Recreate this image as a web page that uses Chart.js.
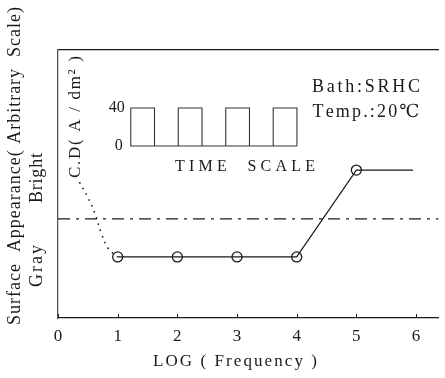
<!DOCTYPE html>
<html>
<head>
<meta charset="utf-8">
<script src="https://cdn.jsdelivr.net/npm/chart.js@4/dist/chart.umd.min.js"></script>
<style>
  html, body { margin: 0; padding: 0; background: #ffffff; }
  #wrap { width: 445px; height: 378px; }
</style>
</head>
<body>
<div id="wrap"><canvas id="c" width="445" height="378"></canvas></div>
<script>
// ---- data ----
const xTickValues   = [0, 1, 2, 3, 4, 5, 6];               // LOG(Frequency) ticks
const logFrequency  = [1, 2, 3, 4, 5, 5.95];                // main measured series (last = line end)
const appearance    = [22.8, 22.8, 22.8, 22.8, 55.2, 55.2]; // arbitrary scale (Gray ≈ 22.8, Bright ≈ 55.2)
const transitionX   = [0.36, 0.5, 0.62, 0.72, 0.84, 1];     // dotted low-frequency part
const transitionY   = [50.7, 45, 39, 32, 26, 22.8];
const boundaryX     = [0, 6.38];                            // Gray / Bright boundary (dash-dot)
const boundaryY     = [37, 37];
// inset square wave: baseline first, then the four 40 A/dm² pulses
const pulseTime     = [7, 0, 0, 1, 1, 2, 2, 3, 3, 4, 4, 5, 5, 6, 6, 7, 7];
const pulseCurrent  = [0, 0, 40, 40, 0, 0, 40, 40, 0, 0, 40, 40, 0, 0, 40, 40, 0];
const levelLabels   = [{ text: 'Bright', value: 55.2 }, { text: 'Gray', value: 22.8 }];

const pts = (xs, ys) => xs.map((x, i) => ({ x: x, y: ys[i] }));
const SERIF = '"Liberation Serif", "DejaVu Serif", serif';
const INK = '#1a1a1a';

// draws text spread to a given width (the scanned figure uses wide letter spacing)
function spread(ctx, text, cx, cy, width, rot, font) {
  ctx.save();
  ctx.font = font;
  ctx.fillStyle = INK;
  ctx.translate(cx, cy);
  ctx.rotate(rot || 0);
  ctx.textBaseline = 'middle';
  ctx.textAlign = 'left';
  const chars = [...text];
  const ws = chars.map(ch => ctx.measureText(ch).width);
  const sum = ws.reduce((a, b) => a + b, 0);
  const gap = chars.length > 1 ? Math.max(0, (width - sum) / (chars.length - 1)) : 0;
  let x = -Math.max(width, sum) / 2;
  chars.forEach((ch, i) => { ctx.fillText(ch, x, 0); x += ws[i] + gap; });
  ctx.restore();
}

const annotations = {
  id: 'annotations',
  afterDraw(chart) {
    const ctx = chart.ctx;
    const xs = chart.scales.x, ys = chart.scales.y;
    const xt = chart.scales.xt, yt = chart.scales.yt;
    const area = chart.chartArea;

    // inward tick marks on the frequency axis
    ctx.save();
    ctx.strokeStyle = INK;
    ctx.lineWidth = 1;
    xTickValues.forEach(v => {
      const px = Math.round(xs.getPixelForValue(v)) + 0.5;
      ctx.beginPath();
      ctx.moveTo(px, area.bottom);
      ctx.lineTo(px, area.bottom - 4);
      ctx.stroke();
    });
    ctx.restore();

    // axis titles
    spread(ctx, 'Surface  Appearance( Arbitrary  Scale)', 15, 166, 318, -Math.PI / 2, '18px ' + SERIF);
    spread(ctx, 'LOG ( Frequency )', 235, 362, 164, 0, '17px ' + SERIF);

    // level labels
    spread(ctx, levelLabels[0].text, 37, ys.getPixelForValue(levelLabels[0].value) + 8, 50, -Math.PI / 2, '18px ' + SERIF);
    spread(ctx, levelLabels[1].text, 37, ys.getPixelForValue(levelLabels[1].value) + 9, 42, -Math.PI / 2, '18px ' + SERIF);

    // inset labels
    spread(ctx, 'C.D( A / dm² )', 76, 117, 122, -Math.PI / 2, '17px ' + SERIF);
    ctx.save();
    ctx.font = '16px ' + SERIF;
    ctx.fillStyle = INK;
    ctx.textAlign = 'right';
    ctx.textBaseline = 'middle';
    ctx.fillText('40', xt.getPixelForValue(0) - 6, yt.getPixelForValue(40));
    ctx.fillText('0', xt.getPixelForValue(0) - 8, yt.getPixelForValue(0));
    ctx.restore();
    spread(ctx, 'TIME  SCALE', 245, 167, 140, 0, '16px ' + SERIF);

    // bath conditions
    spread(ctx, 'Bath:SRHC', 420 - 54, 87, 108, 0, '18px ' + SERIF);
    spread(ctx, 'Temp.:20℃', 420 - 54, 112, 107, 0, '18px ' + SERIF);
  }
};

new Chart(document.getElementById('c'), {
  type: 'line',
  data: {
    datasets: [
      {
        label: 'Surface appearance',
        data: pts(logFrequency, appearance),
        borderColor: INK,
        borderWidth: 1.2,
        pointRadius: [5, 5, 5, 5, 5, 0],
        pointBorderWidth: 1.3,
        pointBorderColor: INK,
        pointBackgroundColor: 'rgba(0,0,0,0)',
        tension: 0,
        xAxisID: 'x', yAxisID: 'y'
      },
      {
        label: 'Transition',
        data: pts(transitionX, transitionY),
        borderColor: INK,
        borderWidth: 1.6,
        borderDash: [1.5, 5],
        pointRadius: 0,
        tension: 0.4,
        xAxisID: 'x', yAxisID: 'y'
      },
      {
        label: 'Boundary',
        data: pts(boundaryX, boundaryY),
        borderColor: INK,
        borderWidth: 1.2,
        borderDash: [12, 6, 3, 6],
        pointRadius: 0,
        xAxisID: 'x', yAxisID: 'y'
      },
      {
        label: 'Current pulse',
        data: pts(pulseTime, pulseCurrent),
        borderColor: '#333333',
        borderWidth: 1.1,
        pointRadius: 0,
        tension: 0,
        xAxisID: 'xt', yAxisID: 'yt'
      }
    ]
  },
  options: {
    responsive: false,
    animation: false,
    devicePixelRatio: 1,
    layout: { padding: { top: 50, right: 0, bottom: 0, left: 0 } },
    plugins: { legend: { display: false }, tooltip: { enabled: false } },
    scales: {
      x: {
        type: 'linear',
        position: 'bottom',
        min: 0, max: 6.38,
        afterFit: s => { s.height = 60; },
        afterBuildTicks: s => { s.ticks = xTickValues.map(v => ({ value: v })); },
        ticks: {
          includeBounds: false,
          padding: 8,
          color: INK,
          font: { family: SERIF, size: 17 },
          maxRotation: 0
        },
        grid: { display: false, drawTicks: false },
        border: { display: true, color: INK, width: 1.3 }
      },
      xTop: {
        type: 'linear',
        position: 'top',
        min: 0, max: 6.38,
        afterFit: s => { s.height = 0; },
        ticks: { display: false },
        grid: { display: false, drawTicks: false },
        border: { display: true, color: INK, width: 1.3 }
      },
      y: {
        type: 'linear',
        position: 'left',
        min: 0, max: 100,
        afterFit: s => { s.width = 58; },
        ticks: { display: false },
        grid: { display: false, drawTicks: false },
        border: { display: true, color: '#555555', width: 1.3 }
      },
      xt: { type: 'linear', display: false, min: -3.065, max: 12.97 },
      yt: { type: 'linear', display: false, min: -181.05, max: 101.05 }
    }
  },
  plugins: [annotations]
});
</script>
</body>
</html>
